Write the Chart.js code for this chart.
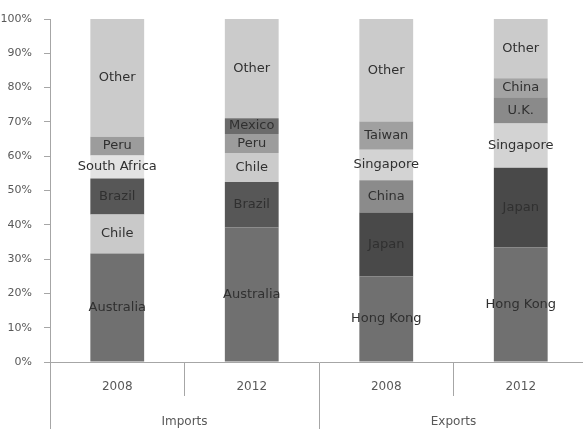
<!DOCTYPE html>
<html>
<head>
<meta charset="utf-8">
<script src="https://cdn.jsdelivr.net/npm/chart.js@4.4.1/dist/chart.umd.min.js"></script>
<style>
  html, body { margin: 0; padding: 0; background: #fff; overflow: hidden; }
</style>
</head>
<body>
<canvas id="tradeChart" width="588" height="429"></canvas>
<script>
const years = ['2008', '2012', '2008', '2012'];
const groups = ['Imports', 'Exports'];
const yTicks = [0, 10, 20, 30, 40, 50, 60, 70, 80, 90, 100];

// stacked segments, bottom to top, one entry per bar
const seg1Names = ['Australia', 'Australia', 'Hong Kong', 'Hong Kong'];
const seg1Values = [31.6, 39.2, 24.9, 33.4];
const seg2Names = ['Chile', 'Brazil', 'Japan', 'Japan'];
const seg2Values = [11.4, 13.3, 18.7, 23.2];
const seg3Names = ['Brazil', 'Chile', 'China', 'Singapore'];
const seg3Values = [10.5, 8.4, 9.4, 12.9];
const seg4Names = ['South Africa', 'Peru', 'Singapore', 'U.K.'];
const seg4Values = [6.7, 5.6, 8.9, 7.7];
const seg5Names = ['Peru', 'Mexico', 'Taiwan', 'China'];
const seg5Values = [5.5, 4.6, 8.2, 5.5];
const seg6Names = ['Other', 'Other', 'Other', 'Other'];
const seg6Values = [34.3, 28.9, 29.9, 17.3];

const segColors = [
  ['#707070', '#707070', '#707070', '#707070'],
  ['#c9c9c9', '#575757', '#494949', '#494949'],
  ['#575757', '#cbcbcb', '#8b8b8b', '#d3d3d3'],
  ['#e3e3e3', '#9c9c9c', '#d3d3d3', '#8a8a8a'],
  ['#9c9c9c', '#6b6b6b', '#a0a0a0', '#a3a3a3'],
  ['#cbcbcb', '#cbcbcb', '#cbcbcb', '#cbcbcb']
];

const allNames = [seg1Names, seg2Names, seg3Names, seg4Names, seg5Names, seg6Names];
const allValues = [seg1Values, seg2Values, seg3Values, seg4Values, seg5Values, seg6Values];

const axisGray = '#a6a6a6';
const textGray = '#595959';

const segmentLabels = {
  id: 'segmentLabels',
  afterDatasetsDraw(chart) {
    const ctx = chart.ctx;
    ctx.save();
    ctx.font = '13px "DejaVu Sans"';
    ctx.fillStyle = '#303030';
    ctx.textAlign = 'center';
    ctx.textBaseline = 'middle';
    chart.data.datasets.forEach((ds, i) => {
      chart.getDatasetMeta(i).data.forEach((bar, j) => {
        ctx.fillText(allNames[i][j], bar.x, (bar.y + bar.base) / 2);
      });
    });
    ctx.restore();
  }
};

const ctx = document.getElementById('tradeChart').getContext('2d');
new Chart(ctx, {
  type: 'bar',
  data: {
    labels: years,
    datasets: allValues.map((vals, i) => ({
      label: 'Segment ' + (i + 1),
      data: vals,
      backgroundColor: segColors[i],
      borderWidth: 0,
      barPercentage: 0.4,
      categoryPercentage: 1
    }))
  },
  options: {
    responsive: false,
    animation: false,
    layout: { padding: { top: 19, left: 0, right: 0, bottom: 0 } },
    plugins: {
      legend: { display: false },
      tooltip: { enabled: false }
    },
    scales: {
      x: {
        stacked: true,
        border: { color: axisGray },
        grid: { offset: true, drawOnChartArea: false, tickLength: 34, color: axisGray },
        ticks: { padding: -16, color: textGray, font: { family: 'DejaVu Sans', size: 12 } },
        afterFit: (s) => { s.height = 34; }
      },
      x2: {
        type: 'category',
        labels: groups,
        position: 'bottom',
        offset: true,
        border: { display: false },
        grid: { offset: true, drawOnChartArea: false, tickLength: 33, color: axisGray },
        ticks: { padding: -14, color: textGray, font: { family: 'DejaVu Sans', size: 12 } },
        afterFit: (s) => { s.height = 33; }
      },
      y: {
        stacked: true,
        min: 0,
        max: 100,
        border: { color: axisGray },
        grid: { drawOnChartArea: false, tickLength: 6, color: axisGray },
        afterBuildTicks: (s) => { s.ticks = yTicks.map(v => ({ value: v })); },
        ticks: {
          padding: 12,
          color: textGray,
          font: { family: 'DejaVu Sans', size: 11 },
          callback: (v) => v + '%'
        },
        afterFit: (s) => { s.width = 50; }
      }
    }
  },
  plugins: [segmentLabels]
});
</script>
</body>
</html>
